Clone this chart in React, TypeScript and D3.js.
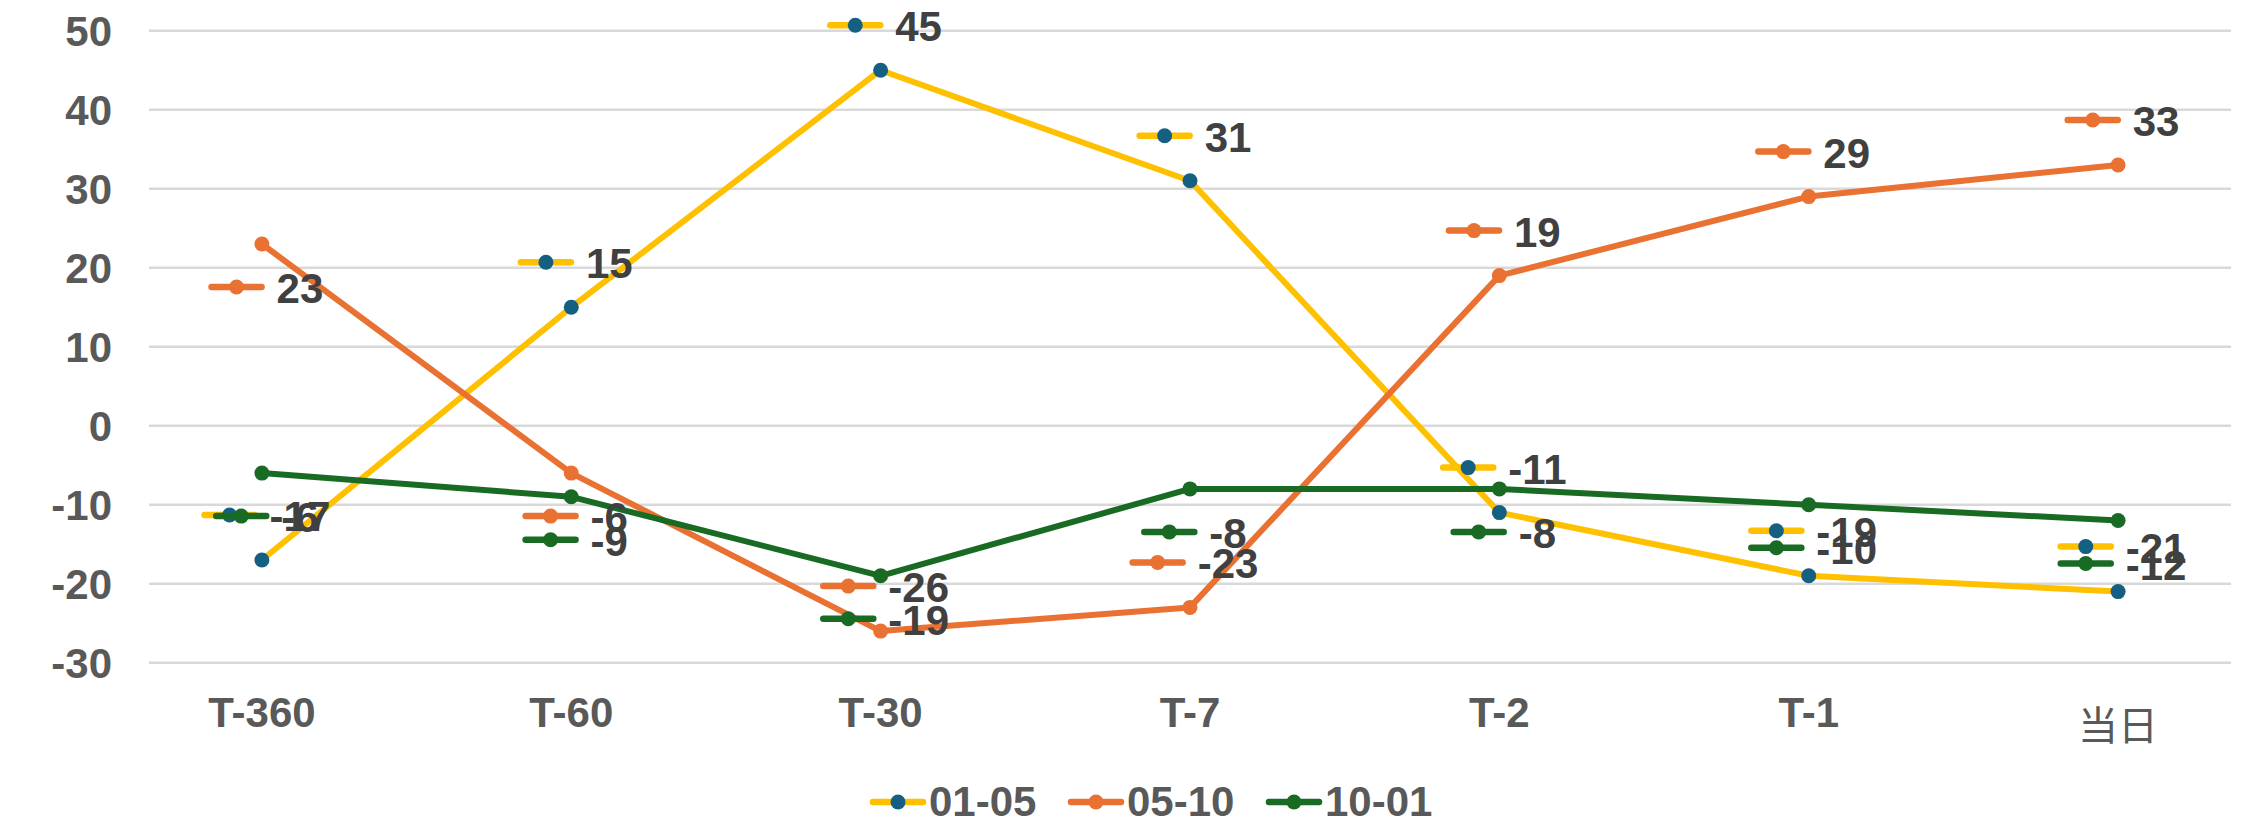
import React, { useEffect, useRef } from "react";
import * as d3 from "d3";

const categories = ["T-360", "T-60", "T-30", "T-7", "T-2", "T-1", "当日"];
const seriesNames = ["01-05", "05-10", "10-01"];
const values0105 = [-17, 15, 45, 31, -11, -19, -21];
const values0510 = [23, -6, -26, -23, 19, 29, 33];
const values1001 = [-6, -9, -19, -8, -8, -10, -12];
const labelPos0105 = ["above", "above", "above", "above", "above", "above", "above"];
const labelPos0510 = ["below", "below", "above", "above", "above", "above", "above"];
const labelPos1001 = ["below", "below", "below", "below", "below", "below", "below"];
const yTicks = [-30, -20, -10, 0, 10, 20, 30, 40, 50];

const lineColors = ["#FFC000", "#E97132", "#196B24"];
const markerColors = ["#156082", "#E97132", "#196B24"];

const FONT = "'Liberation Sans', Arial, Helvetica, sans-serif";

export default function App() {
  const ref = useRef<SVGSVGElement | null>(null);

  useEffect(() => {
    const svg = d3.select(ref.current as SVGSVGElement);
    svg.selectAll("*").remove();

    const plotL = 149;
    const plotR = 2231;
    const x = d3.scalePoint<string>().domain(categories).range([plotL, plotR]).padding(0.365);
    const y = d3.scaleLinear().domain([-30, 50]).range([662.7, 30.7]);

    const series = [
      { name: seriesNames[0], values: values0105, pos: labelPos0105 },
      { name: seriesNames[1], values: values0510, pos: labelPos0510 },
      { name: seriesNames[2], values: values1001, pos: labelPos1001 },
    ];

    // gridlines
    svg.append("g")
      .selectAll("line")
      .data(yTicks)
      .join("line")
      .attr("x1", plotL)
      .attr("x2", plotR)
      .attr("y1", (d) => y(d))
      .attr("y2", (d) => y(d))
      .attr("stroke", "#D9D9D9")
      .attr("stroke-width", 2.5);

    // y tick labels
    svg.append("g")
      .selectAll("text")
      .data(yTicks)
      .join("text")
      .attr("x", 112)
      .attr("y", (d) => y(d) + 15)
      .attr("text-anchor", "end")
      .attr("font-family", FONT)
      .attr("font-weight", "bold")
      .attr("font-size", 42)
      .attr("fill", "#595959")
      .text((d) => String(d));

    // x labels
    const isAscii = (d: string) => /^[\x00-\x7F]*$/.test(d);
    svg.append("g")
      .selectAll("text")
      .data(categories)
      .join("text")
      .attr("x", (d) => x(d) as number)
      .attr("y", (d) => (isAscii(d) ? 727 : 740))
      .attr("text-anchor", "middle")
      .attr("font-family", (d) => (isAscii(d) ? FONT : "'Noto Sans CJK SC', sans-serif"))
      .attr("font-weight", (d) => (isAscii(d) ? "bold" : "normal"))
      .attr("font-size", (d) => (isAscii(d) ? 42 : 40))
      .attr("fill", "#595959")
      .text((d) => d);

    // lines and markers
    series.forEach((s, si) => {
      const line = d3
        .line<number>()
        .x((_, i) => x(categories[i]) as number)
        .y((d) => y(d));
      svg.append("path")
        .datum(s.values)
        .attr("d", line)
        .attr("fill", "none")
        .attr("stroke", lineColors[si])
        .attr("stroke-width", 6)
        .attr("stroke-linejoin", "round");
      svg.append("g")
        .selectAll("circle")
        .data(s.values)
        .join("circle")
        .attr("cx", (_, i) => x(categories[i]) as number)
        .attr("cy", (d) => y(d))
        .attr("r", 7.5)
        .attr("fill", markerColors[si]);
    });

    // data labels with legend keys
    const drawKey = (g: any, left: number, cy: number, si: number) => {
      g.append("line")
        .attr("x1", left + 3)
        .attr("x2", left + 53)
        .attr("y1", cy)
        .attr("y2", cy)
        .attr("stroke", lineColors[si])
        .attr("stroke-width", 6.5)
        .attr("stroke-linecap", "round");
      g.append("circle")
        .attr("cx", left + 28)
        .attr("cy", cy)
        .attr("r", 7.5)
        .attr("fill", markerColors[si]);
    };

    series.forEach((s, si) => {
      const g = svg.append("g");
      s.values.forEach((v, i) => {
        const px = x(categories[i]) as number;
        const py = y(v);
        const t = g.append("text")
          .attr("font-family", FONT)
          .attr("font-weight", "bold")
          .attr("font-size", 42)
          .attr("fill", "#404040")
          .text(String(v));
        const tw = (t.node() as SVGTextElement).getComputedTextLength();
        const W = 56 + 12 + tw;
        const left = px - W / 2 + 4;
        const keyCy = s.pos[i] === "above" ? py - 45 : py + 43;
        t.attr("x", left + 68).attr("y", keyCy + 16);
        const kg = g.insert("g", () => t.node());
        drawKey(kg, left, keyCy, si);
      });
    });

    // legend
    const lg = svg.append("g");
    series.forEach((s, si) => {
      const x0 = 870 + si * 198;
      drawKey(lg, x0, 802, si);
      lg.append("text")
        .attr("x", x0 + 59)
        .attr("y", 816)
        .attr("font-family", FONT)
        .attr("font-weight", "bold")
        .attr("font-size", 42)
        .attr("fill", "#595959")
        .text(s.name);
    });
  }, []);

  return (
    <div style={{ position: "absolute", left: 0, top: 0, width: 2262, height: 825, background: "#fff" }}>
      <svg ref={ref} width={2262} height={825} style={{ display: "block" }} />
    </div>
  );
}
